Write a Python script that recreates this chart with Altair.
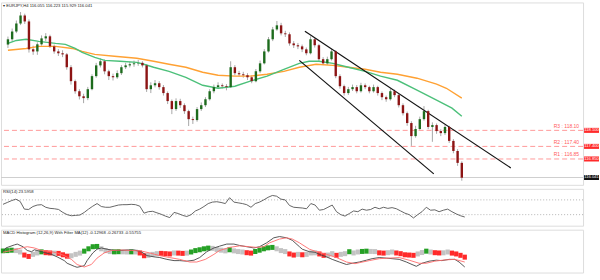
import altair as alt
import pandas as pd

# ---------------- data ----------------
first_open = 121.85
close = [122.08,122.42,122.77,123.12,122.86,121.64,121.55,121.86,122.12,122.21,
         121.77,121.55,121.47,121.42,120.86,120.25,119.81,119.59,119.51,119.90,
         120.47,120.94,121.12,120.68,120.47,120.42,120.60,120.86,120.94,120.99,
         121.03,121.05,120.94,119.90,120.07,120.16,119.99,119.73,119.38,119.03,
         119.38,119.20,118.94,118.59,118.55,119.03,119.20,119.46,119.81,119.99,
         120.07,120.03,119.99,120.86,120.60,120.55,120.51,120.42,120.25,120.68,
         121.03,121.55,122.08,122.51,122.69,122.34,122.30,121.90,121.82,121.77,
         121.64,121.47,122.08,121.82,121.21,121.03,121.21,121.55,120.47,120.03,
         119.73,119.90,119.99,119.81,120.07,119.99,119.81,119.99,119.73,119.55,
         119.46,119.81,119.64,119.20,118.85,118.42,117.85,118.16,118.59,118.94,
         118.25,118.33,118.07,117.98,118.25,117.64,117.20,116.68,116.03]
high = [122.20,122.55,122.90,123.27,123.20,122.95,121.80,121.95,122.25,122.35,
        122.28,121.85,121.65,121.60,121.48,120.95,120.32,119.90,119.70,120.00,
        120.55,121.05,121.25,121.20,120.75,120.58,120.72,120.95,121.05,121.10,
        121.15,121.18,121.12,121.00,120.20,120.30,120.25,120.08,119.80,119.45,
        119.50,119.48,119.28,119.00,118.70,119.12,119.32,119.55,119.90,120.10,
        120.20,120.15,120.12,121.12,120.95,120.70,120.66,120.60,120.50,120.78,
        121.15,121.65,122.18,122.62,122.88,122.80,122.45,122.38,122.00,121.92,
        121.85,121.72,122.21,122.15,121.88,121.30,121.32,121.66,121.60,120.55,
        120.10,120.00,120.10,120.08,120.18,120.15,120.05,120.10,120.05,119.80,
        119.62,119.92,119.88,119.70,119.28,118.92,118.50,118.30,118.70,119.16,
        119.00,118.45,118.40,118.15,118.36,118.30,117.72,117.28,116.75]
low = [121.70,121.98,122.35,122.70,122.75,121.50,121.40,121.40,121.80,122.00,
       121.70,121.45,121.35,121.30,120.75,120.10,119.70,119.45,119.29,119.42,
       119.85,120.40,120.85,120.55,120.30,120.28,120.35,120.52,120.78,120.85,
       120.88,120.92,120.85,119.78,119.73,119.98,119.88,119.62,119.25,118.81,
       118.95,119.08,118.82,118.29,118.38,118.48,118.95,119.12,119.40,119.72,
       119.92,119.93,119.85,119.95,120.50,120.45,120.40,120.30,120.16,120.20,
       120.60,120.98,121.50,122.00,122.45,122.25,122.18,121.80,121.70,121.65,
       121.52,121.38,121.42,121.72,121.10,120.95,120.96,121.15,120.38,119.92,
       119.62,119.65,119.82,119.72,119.75,119.90,119.72,119.75,119.62,119.42,
       119.35,119.40,119.55,119.10,118.75,118.30,117.42,117.78,118.10,118.52,
       118.15,117.60,117.95,117.85,117.90,117.55,117.10,116.55,115.90]

green_bars = [0,6,13,22,34,41,48,53,62,69,80,92,97,104,115,127,139,150,162,173,185,197,208,215,222,232,243,255,266,278,292,306,317,324]
green_vals = [121.90,122.03,122.08,121.99,121.90,121.86,121.68,121.51,121.29,121.16,121.12,121.07,120.99,120.86,120.68,120.42,120.07,119.94,120.03,120.25,120.47,120.77,121.03,121.12,121.12,121.03,120.86,120.68,120.47,120.29,119.86,119.42,119.07,118.72]
orange_bars = [0,13,22,34,46,53,62,76,92,104,115,127,139,150,162,173,185,197,208,220,232,243,255,266,278,292,306,313,324]
orange_vals = [121.60,121.68,121.77,121.77,121.68,121.55,121.42,121.34,121.25,121.12,120.99,120.86,120.64,120.51,120.47,120.47,120.55,120.68,120.86,120.99,120.94,120.86,120.77,120.64,120.55,120.38,120.12,119.94,119.51]

chan_upper_bars = [212, 359]
chan_upper_vals = [122.43, 116.46]
chan_lower_bars = [208, 304]
chan_lower_vals = [121.16, 116.20]

r_names = ["R3 : 118.10", "R2 : 117.40", "R1 : 116.85"]
r_vals = [118.10, 117.40, 116.85]
r_box_text = ["118.100", "117.400", "116.850"]
bid_val = 116.041
bid_text = "116.041"
header_text = "\u25be EURJPY,H4  116.055 116.223 115.929 116.041"

price_ticks = [123.440, 122.930, 122.420, 121.910, 121.400, 120.890, 120.365, 119.855,
               119.345, 118.835, 118.325, 117.815, 117.305, 116.795, 116.285, 115.775]

rsi = [58,63,68,72,66,45,44,52,56,57,
       50,47,46,44,36,30,27,28,29,36,
       45,53,60,52,50,50,53,56,57,57,
       58,57,53,34,38,39,35,31,26,22,
       36,33,28,25,30,40,45,52,60,64,
       65,63,60,76,64,62,60,57,50,60,
       64,70,77,82,80,72,70,55,50,49,
       48,46,60,56,42,44,50,56,38,30,
       26,33,40,38,45,42,44,50,46,50,
       47,49,46,40,34,30,21,30,38,50,
       42,43,38,42,45,38,32,27,23.6]
rsi_title = "RSI(14) 23.5958"
rsi_ticks = [0, 30, 50, 70, 100]
rsi_levels = [30, 70]

hist = [0.10,0.12,0.15,0.12,0.02,-0.20,-0.30,-0.15,-0.05,0.03,
        -0.03,-0.05,-0.06,-0.08,-0.18,-0.28,-0.25,-0.15,-0.06,0.08,
        0.25,0.40,0.42,0.25,0.12,0.05,0.03,0.04,0.03,0.02,
        0.03,0.02,-0.05,-0.25,-0.22,-0.15,-0.10,-0.08,-0.10,-0.12,
        -0.05,-0.06,-0.08,-0.06,0.02,0.12,0.18,0.25,0.30,0.28,
        0.20,0.15,0.10,0.18,0.10,0.05,0.02,-0.03,-0.06,0.05,
        0.15,0.25,0.32,0.35,0.25,0.12,0.05,-0.12,-0.20,-0.15,
        -0.18,-0.15,-0.05,-0.04,-0.12,-0.22,-0.20,-0.10,-0.22,-0.15,
        -0.10,0.04,-0.05,0.02,0.06,0.08,0.06,0.05,-0.04,-0.06,
        -0.03,0.02,-0.05,-0.10,-0.18,-0.20,-0.22,-0.12,-0.02,0.08,
        0.02,-0.03,-0.05,-0.04,0.02,-0.06,-0.12,-0.22,-0.35]
hist_state = list("gggnnrrnng" "rrnrrrnnng" "gggnnnggnn" "gnrrnnnrrr" "nrrnggggg" "n"
                  "nnngnnnrrg" "ggggnnnrrn" "rnnnrrnnrn" "ngnnggnnrr" "nnrrrrrnng" "nrrnnrrrr")

macd_bars = [0,2,8,10,14,17,20,22,24,29,34,38,43,45,50,52,57,59,63,66,69,73,78,83,87,92,97,101,106,110,
             115,120,124,129,134,138,143,148,152,157,162,166,171,176,180,185,190,194,199,203,208,210,215,219,222,227,231,236,241,245,
             250,255,259,264,269,273,278,283,287,290,294,299,304,308,313,317,320,324]
macd_vals = [0.04,0.31,0.53,0.59,0.40,0.13,0.04,0.18,0.13,-0.02,-0.15,-0.33,-0.60,-0.79,-1.01,-1.08,-0.97,-0.60,-0.05,0.22,
             0.31,0.22,0.13,0.13,0.16,0.16,0.04,-0.24,-0.33,-0.38,-0.51,-0.60,-0.60,-0.64,-0.57,-0.38,0.04,0.31,0.44,0.59,
             0.59,0.49,0.40,0.31,0.40,0.68,1.04,1.13,1.04,0.86,0.40,0.22,0.04,0.00,-0.15,-0.33,-0.51,-0.70,-0.88,-0.79,
             -0.70,-0.57,-0.46,-0.38,-0.42,-0.46,-0.51,-0.70,-0.88,-1.01,-0.79,-0.64,-0.57,-0.60,-0.51,-0.51,-0.70,-1.06]
sig_bars = [0,6,13,17,22,27,34,38,43,48,52,57,62,66,71,76,83,90,97,103,110,117,124,131,136,142,148,152,159,166,
            173,178,183,187,194,199,203,208,215,220,227,234,241,247,250,257,264,271,278,285,292,297,303,310,317,324]
sig_vals = [0.00,0.13,0.31,0.40,0.31,0.13,0.04,-0.05,-0.24,-0.51,-0.88,-1.06,-0.88,-0.42,-0.05,0.13,0.16,0.13,0.09,-0.05,
            -0.24,-0.38,-0.51,-0.70,-0.70,-0.51,-0.15,0.13,0.35,0.46,0.40,0.35,0.40,0.68,0.95,1.04,0.95,0.68,0.22,0.04,
            -0.15,-0.38,-0.70,-0.82,-0.75,-0.60,-0.46,-0.42,-0.38,-0.57,-0.79,-0.79,-0.64,-0.55,-0.51,-0.70]
macd_title = "MACD Histogram (12,26,9) With Filter MA(12) -0.12968 -0.26733 -0.55755"
macd_top = 1.26525
macd_bottom = -1.09955

time_labels = ["26 Jan 2017", "30 Jan 20:00", "2 Feb 12:00", "7 Feb 04:00", "9 Feb 20:00",
               "14 Feb 12:00", "17 Feb 04:00", "21 Feb 20:00", "24 Feb 12:00", "1 Mar 04:00",
               "3 Mar 20:00", "8 Mar 12:00", "13 Mar 04:00", "15 Mar 20:00", "20 Mar 12:00",
               "23 Mar 04:00", "27 Mar 20:00", "30 Mar 12:00", "4 Apr 04:00", "6 Apr 20:00",
               "11 Apr 12:00"]
bars_per_label = 16
bars_per_candle = 3

# ---------------- tables ----------------
n = len(close)
bar_pos = [bars_per_candle * i for i in range(n)]
opens = [first_open] + close[:-1]
candles = pd.DataFrame({"bar": bar_pos, "open": opens, "close": close, "high": high, "low": low,
                        "dir": ["up" if c >= o else "down" for o, c in zip(opens, close)]})
green_df = pd.DataFrame({"bar": green_bars, "v": green_vals})
orange_df = pd.DataFrame({"bar": orange_bars, "v": orange_vals})
chan = pd.concat([
    pd.DataFrame({"bar": chan_upper_bars, "v": chan_upper_vals, "id": "up"}),
    pd.DataFrame({"bar": chan_lower_bars, "v": chan_lower_vals, "id": "lo"}),
])
rdf = pd.DataFrame({"name": r_names, "v": r_vals, "box": r_box_text})
bdf = pd.DataFrame({"v": [bid_val], "box": [bid_text]})
rsidf = pd.DataFrame({"bar": bar_pos, "rsi": rsi})
histdf = pd.DataFrame({"bar": bar_pos, "h": hist, "s": hist_state})
macd_df = pd.DataFrame({"bar": macd_bars, "v": macd_vals})
sig_df = pd.DataFrame({"bar": sig_bars, "v": sig_vals})

W = 584
X_DOM = [-1.4, 407.0]
FS = 4.2
LBL = "#222222"

def xs():
    return alt.Scale(domain=X_DOM, nice=False, zero=False)

ysc = alt.Scale(domain=[115.72, 123.69], nice=False, zero=False)
price_axis = alt.Axis(orient="right", values=price_ticks, format=".3f", labelFontSize=FS,
                      tickSize=2, labelPadding=1, grid=False, title=None, labelColor=LBL,
                      domainColor="#777777", tickColor="#777777", labelOverlap=False)
XN = alt.X("bar:Q", scale=xs(), axis=None)

base = alt.Chart(candles)
wicks = base.mark_rule(color="#a8a8a8", strokeWidth=1).encode(
    x=XN, y=alt.Y("low:Q", scale=ysc, axis=price_axis), y2="high:Q")
bodies_up = base.transform_filter("datum.dir == 'up'").mark_bar(size=2.4, color="#1d6b1d").encode(
    x=XN, y=alt.Y("open:Q", scale=ysc, axis=None), y2="close:Q")
bodies_dn = base.transform_filter("datum.dir == 'down'").mark_bar(size=2.4, color="#8c1414").encode(
    x=XN, y=alt.Y("open:Q", scale=ysc, axis=None), y2="close:Q")
ma_green = alt.Chart(green_df).mark_line(strokeWidth=1.4, color="#4cc07a").encode(
    x=XN, y=alt.Y("v:Q", scale=ysc, axis=None))
ma_orange = alt.Chart(orange_df).mark_line(strokeWidth=1.4, color="#ffa133").encode(
    x=XN, y=alt.Y("v:Q", scale=ysc, axis=None))
chan_lines = alt.Chart(chan).mark_line(color="#111111", strokeWidth=1.2).encode(
    x=XN, y=alt.Y("v:Q", scale=ysc, axis=None), detail="id:N")
bid_line = alt.Chart(bdf).mark_rule(color="#cfcfcf", strokeWidth=1).encode(
    y=alt.Y("v:Q", scale=ysc, axis=None))
r_lines = alt.Chart(rdf).mark_rule(color="#ff9a9a", strokeWidth=1, strokeDash=[5, 3]).encode(
    y=alt.Y("v:Q", scale=ysc, axis=None))
r_text = alt.Chart(rdf).mark_text(align="right", baseline="bottom", dy=-1.5, fontSize=5,
                                  color="#ff5a5a").encode(
    x=alt.value(580), y=alt.Y("v:Q", scale=ysc, axis=None), text="name:N")
r_box = alt.Chart(rdf).transform_calculate(a="datum.v-0.11", b="datum.v+0.11").mark_rect(color="#ff2a2a").encode(
    x=alt.value(585), x2=alt.value(600), y=alt.Y("a:Q", scale=ysc, axis=None), y2="b:Q")
r_box_t = alt.Chart(rdf).mark_text(fontSize=FS, color="white", align="center", baseline="middle").encode(
    x=alt.value(592.5), y=alt.Y("v:Q", scale=ysc, axis=None), text="box:N")
b_box = alt.Chart(bdf).transform_calculate(a="datum.v-0.11", b="datum.v+0.11").mark_rect(color="#111111").encode(
    x=alt.value(585), x2=alt.value(600), y=alt.Y("a:Q", scale=ysc, axis=None), y2="b:Q")
b_box_t = alt.Chart(bdf).mark_text(fontSize=FS, color="white", align="center", baseline="middle").encode(
    x=alt.value(592.5), y=alt.Y("v:Q", scale=ysc, axis=None), text="box:N")
header = alt.Chart(pd.DataFrame({"t": [header_text]})).mark_text(
    align="left", baseline="middle", fontSize=4.2, color="#222222").encode(
    x=alt.value(2), y=alt.value(4), text="t:N")

main = alt.layer(wicks, bid_line, r_lines, ma_orange, ma_green, chan_lines, bodies_up, bodies_dn, r_text,
                 r_box, r_box_t, b_box, b_box_t, header).properties(width=W, height=183)

# ---------------- RSI ----------------
rsc = alt.Scale(domain=[0, 100], nice=False)
rsi_line = alt.Chart(rsidf).mark_line(color="#555555", strokeWidth=0.9).encode(
    x=XN,
    y=alt.Y("rsi:Q", scale=rsc, axis=alt.Axis(orient="right", values=rsi_ticks, format="d",
                                               labelFontSize=FS, tickSize=2, labelPadding=1, grid=False,
                                               title=None, labelColor=LBL, domainColor="#777777",
                                               tickColor="#777777", labelOverlap=False)),
)
rsi_lv = alt.Chart(pd.DataFrame({"v": rsi_levels})).mark_rule(color="#b5b5b5", strokeDash=[1, 2]).encode(
    y=alt.Y("v:Q", scale=rsc, axis=None))
rsi_t = alt.Chart(pd.DataFrame({"t": [rsi_title]})).mark_text(
    align="left", baseline="middle", fontSize=4.2, color="#222222").encode(
    x=alt.value(2), y=alt.value(3), text="t:N")
rsi_panel = alt.layer(rsi_lv, rsi_line, rsi_t).properties(width=W, height=37)

# ---------------- MACD ----------------
label_js = "[" + ",".join("'" + s + "'" for s in time_labels) + "][round(datum.value/%d)]" % bars_per_label
time_ticks = [bars_per_label * k for k in range(len(time_labels))]
msc = alt.Scale(domain=[macd_bottom, macd_top], nice=False, zero=False)
macd_axis = alt.Axis(orient="right", values=[macd_top, 0, macd_bottom],
                     labelExpr="datum.value == 0 ? '0.00' : format(datum.value, '.5f')",
                     labelFontSize=FS, tickSize=2, labelPadding=1, grid=False, title=None,
                     labelColor=LBL, domainColor="#777777", tickColor="#777777", labelOverlap=False)
x_axis = alt.Axis(values=time_ticks, labelExpr=label_js, labelAlign="left", labelFontSize=FS,
                  tickSize=3, labelPadding=1, grid=False, title=None, labelColor=LBL,
                  domainColor="#777777", tickColor="#777777", labelOverlap=False, labelFlush=False)

hbase = alt.Chart(histdf).transform_calculate(x1="datum.bar-1.5", x2="datum.bar+1.5")
def hlayer(state, col, axes):
    return hbase.transform_filter("datum.s == '%s'" % state).mark_bar(color=col).encode(
        x=alt.X("x1:Q", scale=xs(), axis=x_axis if axes else None),
        x2="x2:Q",
        y=alt.Y("h:Q", scale=msc, axis=macd_axis if axes else None),
    )
h_n = hlayer("n", "#c3c3c3", True)
h_g = hlayer("g", "#25a025", False)
h_r = hlayer("r", "#ff2a2a", False)
macd_line = alt.Chart(macd_df).mark_line(strokeWidth=0.9, color="#444444").encode(
    x=XN, y=alt.Y("v:Q", scale=msc, axis=None))
sig_line = alt.Chart(sig_df).mark_line(strokeWidth=0.9, color="#ff6b6b").encode(
    x=XN, y=alt.Y("v:Q", scale=msc, axis=None))
macd_t = alt.Chart(pd.DataFrame({"t": [macd_title]})).mark_text(
    align="left", baseline="middle", fontSize=4.2, color="#222222").encode(
    x=alt.value(2), y=alt.value(3), text="t:N")
macd_panel = alt.layer(h_n, h_g, h_r, macd_line, sig_line, macd_t).properties(width=W, height=43)

chart = alt.vconcat(main, rsi_panel, macd_panel, spacing=2).properties(
    padding={"left": 0, "top": 1, "right": 0, "bottom": 0}, background="white"
).configure_view(stroke="#8a8a8a", strokeWidth=1).configure(font="Liberation Sans")

chart.save("out.html", embed_options={"renderer": "svg", "actions": False})
